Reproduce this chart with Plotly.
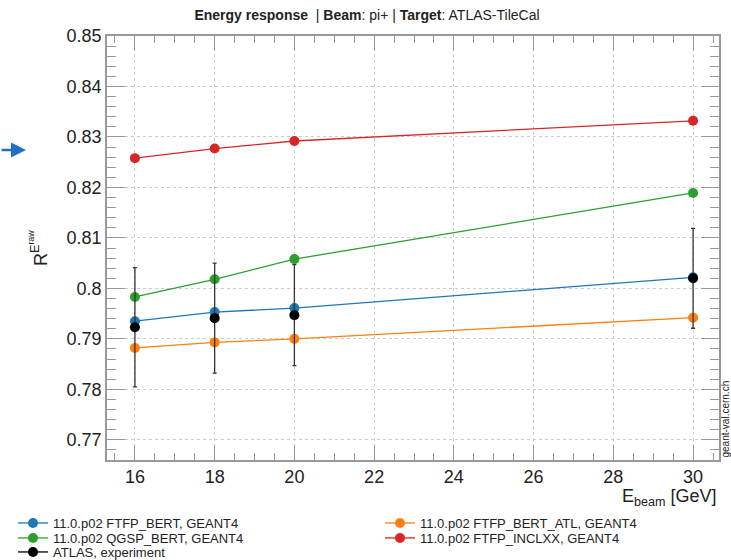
import plotly.graph_objects as go

energy = [16, 18, 20, 30]
ftfp_bert = [0.7935, 0.7953, 0.7961, 0.8022]
ftfp_bert_atl = [0.7882, 0.7893, 0.7900, 0.7942]
qgsp_bert = [0.7983, 0.8018, 0.8058, 0.8189]
ftfp_inclxx = [0.8258, 0.8277, 0.8292, 0.8332]
atlas = [0.7923, 0.7941, 0.7947, 0.8020]
atlas_err = [0.0118, 0.0109, 0.0100, 0.0099]

series = [
    ("11.0.p02 FTFP_BERT, GEANT4", ftfp_bert, "#1f77b4", "legend"),
    ("11.0.p02 FTFP_BERT_ATL, GEANT4", ftfp_bert_atl, "#ff7f0e", "legend2"),
    ("11.0.p02 QGSP_BERT, GEANT4", qgsp_bert, "#2ca02c", "legend3"),
    ("11.0.p02 FTFP_INCLXX, GEANT4", ftfp_inclxx, "#d62728", "legend4"),
]

FONT = "Liberation Sans Narrow, Liberation Sans, Arial, sans-serif"


def with_gaps(values):
    # insert None between points so isolated data points are not joined by lines
    out = []
    for i, v in enumerate(values):
        if i:
            out.append(None)
        out.append(v)
    return out


fig = go.Figure()
for name, vals, col, lg in series:
    fig.add_trace(go.Scatter(
        x=energy, y=vals, name=name, mode="lines+markers",
        line=dict(color=col, width=1.3),
        marker=dict(color=col, size=10),
        legend=lg,
    ))
fig.add_trace(go.Scatter(
    x=with_gaps(energy), y=with_gaps(atlas), name="ATLAS, experiment",
    mode="lines+markers", connectgaps=False,
    line=dict(color="black", width=1.3),
    marker=dict(color="black", size=10),
    error_y=dict(type="data", array=with_gaps(atlas_err), color="#333333", thickness=1.3, width=2),
    legend="legend5",
))

axis_common = dict(
    showline=True, linecolor="#999999", linewidth=1.5, mirror="allticks",
    ticks="inside", tickcolor="#999999", tickwidth=1.3,
    showgrid=True, gridcolor="#cccccc", griddash="dot", gridwidth=1,
    zeroline=False, automargin=False,
    tickfont=dict(family="Liberation Sans, Arial, sans-serif", size=18, color="#222222"),
)

fig.update_xaxes(
    range=[15.3, 30.65], tickmode="linear", tick0=16, dtick=2, ticklen=15,
    minor=dict(ticks="inside", dtick=0.5, tick0=16, ticklen=7, tickcolor="#999999", showgrid=False),
    **axis_common,
)
fig.update_yaxes(
    range=[0.766, 0.85],
    tickvals=[0.77, 0.78, 0.79, 0.80, 0.81, 0.82, 0.83, 0.84, 0.85],
    ticktext=["0.77", "0.78", "0.79", "0.8", "0.81", "0.82", "0.83", "0.84", "0.85"],
    ticklen=18,
    minor=dict(ticks="inside", dtick=0.002, tick0=0.77, ticklen=9, tickcolor="#999999", showgrid=False),
    **axis_common,
)

legend_common = dict(
    orientation="v", xref="container", yref="container",
    xanchor="left", yanchor="middle",
    font=dict(family=FONT, size=13, color="#222222"),
    itemwidth=30, bgcolor="rgba(0,0,0,0)", tracegroupgap=0,
)

H = 560
fig.update_layout(
    width=731, height=560,
    margin=dict(l=107, r=12, t=36, b=100, autoexpand=False),
    plot_bgcolor="white", paper_bgcolor="white",
    font=dict(family=FONT, color="#222222"),
    title=dict(
        text="<b>Energy response</b>  | <b>Beam</b>: pi+ | <b>Target</b>: ATLAS-TileCal",
        x=367 / 731, xanchor="center", y=1 - 15 / H, yanchor="middle",
        font=dict(family=FONT, size=14, color="#222222"),
    ),
    showlegend=True,
    legend=dict(x=13 / 731, y=1 - 523 / H, **legend_common),
    legend2=dict(x=380 / 731, y=1 - 523 / H, **legend_common),
    legend3=dict(x=13 / 731, y=1 - 538 / H, **legend_common),
    legend4=dict(x=380 / 731, y=1 - 538 / H, **legend_common),
    legend5=dict(x=13 / 731, y=1 - 552 / H, **legend_common),
    annotations=[
        dict(text="E<sub>beam</sub> [GeV]", xref="paper", yref="paper",
             x=1.0, y=-38 / 424, xanchor="right", yanchor="middle", showarrow=False,
             font=dict(family="Liberation Sans, Arial, sans-serif", size=18, color="#222222")),
        dict(text="R<sup>E<sup>raw</sup></sup>", xref="paper", yref="paper",
             x=-69 / 612, y=(460 - 248) / 424, xanchor="center", yanchor="middle",
             textangle=-90, showarrow=False,
             font=dict(family="Liberation Sans, Arial, sans-serif", size=18, color="#222222")),
        dict(text="geant-val.cern.ch", xref="paper", yref="paper",
             x=(725 - 107) / 612, y=0.0, xanchor="center", yanchor="bottom",
             textangle=-90, showarrow=False,
             font=dict(family=FONT, size=10, color="#222222")),
        dict(text="", xref="paper", yref="paper",
             x=(26 - 107) / 612, y=(460 - 150) / 424, ax=-26, ay=0,
             showarrow=True, arrowhead=2, arrowsize=1.2, arrowwidth=2.5,
             arrowcolor="#1f6fc5"),
    ],
)

fig.write_html("out.html", config={"displayModeBar": False},
               post_script="document.body.style.margin='0';")
